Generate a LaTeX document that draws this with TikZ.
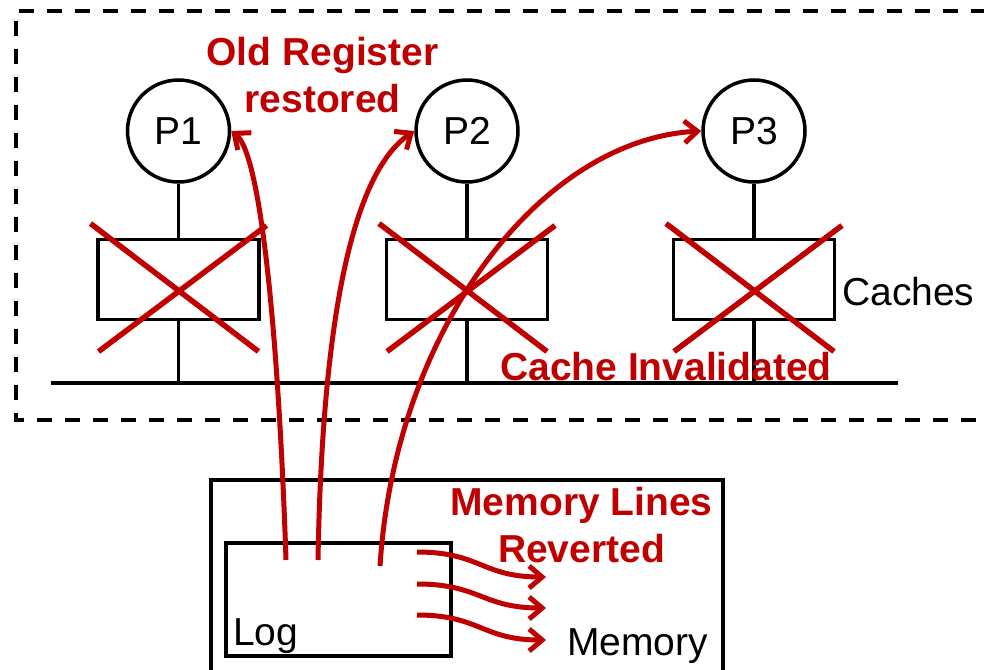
\documentclass[tikz,border=0pt]{standalone}
\usepackage{fontspec}
\setmainfont{Liberation Sans}
\usetikzlibrary{arrows.meta,calc}
\definecolor{alarm}{RGB}{192,0,0}

\begin{document}
\begin{tikzpicture}[x=1pt,y=-1pt,
  txt/.style={font=\fontsize{39}{46}\selectfont, inner sep=0pt},
  redtxt/.style={font=\fontsize{39}{46}\selectfont\bfseries, text=alarm, inner sep=0pt},
  wire/.style={line width=3.5pt},
  frame/.style={line width=4pt, dash pattern=on 15pt off 13pt},
  proc/.style={circle, draw, wire, minimum size=102pt, inner sep=0pt,
               font=\fontsize{39}{46}\selectfont},
  cachebox/.style={draw, wire, minimum width=161pt, minimum height=80pt, inner sep=0pt},
  crossout/.style={draw=alarm, line width=5.5pt},
  flow/.style={draw=alarm, line width=5pt, -{Straight Barb[length=13pt,width=22pt]}}
]
\useasboundingbox (0,0) rectangle (984,669);
\clip (0,0) rectangle (984,669);

% processor domain (dashed frame, open to the right)
\draw[frame] (986,11) -- (16,11) -- (16,420) -- (986,420);

% processors
\node[proc] (p1) at (178.5,131) {P1};
\node[proc] (p2) at (467,131) {P2};
\node[proc] (p3) at (754,131) {P3};

% caches
\node[cachebox] (c1) at (178.5,279.5) {};
\node[cachebox] (c2) at (467,279.5) {};
\node[cachebox] (c3) at (754,279.5) {};

% shared bus
\coordinate (busL) at (51,383);
\coordinate (busR) at (898,383);
\draw[wire] (busL) -- (busR);

\foreach \i in {1,2,3} {
  \draw[wire] (p\i.south) -- (c\i.north);
  \draw[wire] (c\i.south) -- (c\i.south |- busL);
}

% invalidated caches
\foreach \i in {1,2,3} {
  \draw[crossout] ($(c\i.center)+(-88,-56)$) -- ($(c\i.center)+(80,72)$);
  \draw[crossout] ($(c\i.center)+(-80,72)$) -- ($(c\i.center)+(88,-54)$);
}

\node[txt, anchor=base west] (caches) at (842,305) {Caches};
\node[redtxt, anchor=base] (inval) at (666,380) {Cache Invalidated};

% memory (runs past the bottom edge) with the log inside
\node[draw, wire, minimum width=512pt, minimum height=200pt, inner sep=0pt]
  (membox) at (467,580) {};
\node[draw, wire, minimum width=225pt, minimum height=113pt, inner sep=0pt]
  (log) at (338.5,599.5) {};
\node[txt, anchor=base west] (logtxt) at (233,645) {Log};
\node[txt, anchor=base west] (mem) at (567,655) {Memory};

\node[redtxt, anchor=base] (reg1) at (322.5,65) {Old Register};
\node[redtxt, anchor=base] (reg2) at (322.5,112) {restored};
\node[redtxt, anchor=base] (rev1) at (581.5,515) {Memory Lines};
\node[redtxt, anchor=base] (rev2) at (581.5,562) {Reverted};

% registers restored from the log
\coordinate (s1) at (286,560);
\coordinate (s2) at (318,560);
\coordinate (s3) at (380,566);
\draw[flow] (s1) .. controls (279,350) and (262,155) .. (p1.east);
\draw[flow] (s2) .. controls (322,330) and (350,175) .. (p2.west);
\draw[flow] (s3) .. controls (395,330) and (540,140) .. (p3.west);

% memory lines reverted
\foreach \i/\ya/\yb in {1/552/577, 2/584/608, 3/615/640} {
  \coordinate (m\i s) at (417,\ya);
  \coordinate (m\i e) at (546,\yb);
  \draw[flow] (m\i s) .. controls (480,\ya) and (482,\yb) .. (m\i e);
}
\end{tikzpicture}
\end{document}
